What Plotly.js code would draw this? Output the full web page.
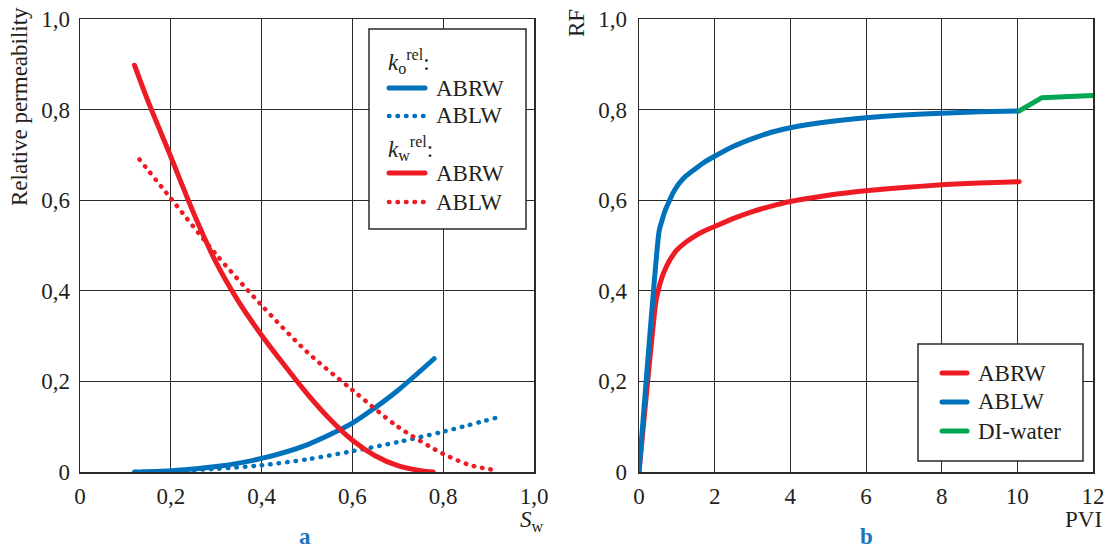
<!DOCTYPE html>
<html>
<head>
<meta charset="utf-8">
<script src="https://cdn.plot.ly/plotly-3.0.1.min.js"></script>
<style>
  html, body { margin: 0; padding: 0; background: #fff; }
  #chart { width: 1113px; height: 549px; }
  .js-line { stroke-linecap: round; stroke-linejoin: round; }
  .shapelayer path { stroke-linecap: round; }
</style>
</head>
<body>
<div id="chart"></div>
<script>
// ---- Panel a: relative permeability vs water saturation ----
const swTicks = [0, 0.2, 0.4, 0.6, 0.8, 1.0];
const swTickText = ['0', '0,2', '0,4', '0,6', '0,8', '1,0'];
const kTicks = [0, 0.2, 0.4, 0.6, 0.8, 1.0];
const kTickText = ['0', '0,2', '0,4', '0,6', '0,8', '1,0'];

const swKoABRW = [0.12, 0.2, 0.3, 0.4, 0.5, 0.6, 0.65, 0.7, 0.78];
const koABRW   = [0, 0.003, 0.012, 0.03, 0.06, 0.108, 0.142, 0.18, 0.25];

const swKoABLW = [0.12, 0.2, 0.3, 0.4, 0.5, 0.6, 0.7, 0.8, 0.918];
const koABLW   = [0, 0.002, 0.007, 0.015, 0.028, 0.046, 0.066, 0.089, 0.12];

const swKwABRW = [0.12, 0.15, 0.2, 0.25, 0.3, 0.35, 0.4, 0.45, 0.5, 0.55, 0.6, 0.65, 0.7, 0.75, 0.778];
const kwABRW   = [0.898, 0.818, 0.696, 0.572, 0.462, 0.375, 0.302, 0.236, 0.173, 0.117, 0.07, 0.036, 0.014, 0.003, 0];

const swKwABLW = [0.131, 0.2, 0.3, 0.4, 0.5, 0.6, 0.7, 0.8, 0.86, 0.915];
const kwABLW   = [0.69, 0.604, 0.48, 0.368, 0.265, 0.181, 0.1, 0.04, 0.015, 0.004];

const legendA = [
  { head: '<i>k</i><sub>o</sub><sup>rel</sup>:' },
  { label: 'ABRW', color: 'blue', dotted: false },
  { label: 'ABLW', color: 'blue', dotted: true },
  { head: '<i>k</i><sub>w</sub><sup>rel</sup>:' },
  { label: 'ABRW', color: 'red', dotted: false },
  { label: 'ABLW', color: 'red', dotted: true }
];

// ---- Panel b: recovery factor vs pore volumes injected ----
const pviTicks = [0, 2, 4, 6, 8, 10, 12];
const pviTickText = ['0', '2', '4', '6', '8', '10', '12'];
const rfTicks = [0, 0.2, 0.4, 0.6, 0.8, 1.0];
const rfTickText = ['0', '0,2', '0,4', '0,6', '0,8', '1,0'];

const pviABRW = [0, 0.44, 0.5, 0.6, 0.7, 0.8, 0.9, 1.0, 1.25, 1.5, 1.75, 2, 2.5, 3, 3.5, 4, 5, 6, 7, 8, 9, 10.05];
const rfABRW  = [0, 0.373, 0.398, 0.428, 0.449, 0.466, 0.479, 0.49, 0.508, 0.522, 0.533, 0.542, 0.56, 0.575, 0.587, 0.597, 0.611, 0.621, 0.628, 0.634, 0.638, 0.641];

const pviABLW = [0, 0.53, 0.6, 0.7, 0.81, 0.9, 1.0, 1.1, 1.25, 1.5, 1.75, 2, 2.5, 3, 3.5, 4, 5, 6, 7, 8, 9, 10.05];
const rfABLW  = [0, 0.531, 0.553, 0.579, 0.600, 0.616, 0.630, 0.641, 0.654, 0.670, 0.685, 0.697, 0.719, 0.736, 0.750, 0.760, 0.773, 0.782, 0.788, 0.792, 0.795, 0.797];

const pviDI = [10.05, 10.64, 12];
const rfDI  = [0.797, 0.826, 0.831];

const legendB = [
  { label: 'ABRW', color: 'red' },
  { label: 'ABLW', color: 'blue' },
  { label: 'DI-water', color: 'green' }
];

const COLORS = { red: '#ed1c24', blue: '#0072bc', green: '#00a651' };
const FONT = '"Liberation Serif", "Times New Roman", Times, serif';
const TXT = '#231f20';
const GRID = '#2a2a2a';
const DOTS = '0.5px,8px';
const FS = 23;

const traces = [
  { x: swKoABRW, y: koABRW, xaxis: 'x', yaxis: 'y', mode: 'lines', name: 'k_o ABRW', showlegend: false,
    line: { color: COLORS.blue, width: 5, shape: 'spline', smoothing: 0.8 } },
  { x: swKoABLW, y: koABLW, xaxis: 'x', yaxis: 'y', mode: 'lines', name: 'k_o ABLW', showlegend: false,
    line: { color: COLORS.blue, width: 4.5, shape: 'spline', smoothing: 0.8, dash: DOTS } },
  { x: swKwABRW, y: kwABRW, xaxis: 'x', yaxis: 'y', mode: 'lines', name: 'k_w ABRW', showlegend: false,
    line: { color: COLORS.red, width: 5, shape: 'spline', smoothing: 0.8 } },
  { x: swKwABLW, y: kwABLW, xaxis: 'x', yaxis: 'y', mode: 'lines', name: 'k_w ABLW', showlegend: false,
    line: { color: COLORS.red, width: 4.5, shape: 'spline', smoothing: 0.8, dash: DOTS } },
  { x: pviABRW, y: rfABRW, xaxis: 'x2', yaxis: 'y2', mode: 'lines', name: 'ABRW', showlegend: false,
    line: { color: COLORS.red, width: 5, shape: 'spline', smoothing: 0.5 } },
  { x: pviABLW, y: rfABLW, xaxis: 'x2', yaxis: 'y2', mode: 'lines', name: 'ABLW', showlegend: false,
    line: { color: COLORS.blue, width: 5, shape: 'spline', smoothing: 0.5 } },
  { x: pviDI, y: rfDI, xaxis: 'x2', yaxis: 'y2', mode: 'lines', name: 'DI-water', showlegend: false,
    line: { color: COLORS.green, width: 5 } }
];

const W = 1113, H = 549;
const px = v => v / W;
const py = v => (H - v) / H;

function axisBase(extra) {
  return Object.assign({
    showgrid: true, gridcolor: GRID, gridwidth: 1,
    showline: true, mirror: true, linecolor: GRID, linewidth: 1.5,
    zeroline: false, ticks: '', tickmode: 'array',
    tickfont: { family: FONT, size: FS, color: TXT },
    fixedrange: true
  }, extra);
}

const shapes = [];
const annotations = [];
function txt(text, x, y, opts) {
  annotations.push(Object.assign({
    text: text, xref: 'paper', yref: 'paper', x: px(x), y: py(y),
    xanchor: 'left', yanchor: 'middle', showarrow: false,
    font: { family: FONT, size: FS, color: TXT }
  }, opts || {}));
}

// Legend of panel a
shapes.push({ type: 'rect', xref: 'paper', yref: 'paper', x0: px(369), x1: px(526), y0: py(229), y1: py(29),
  line: { color: GRID, width: 1.5 }, fillcolor: '#ffffff' });
const rowsA = [61, 88, 116, 148, 173, 202];
legendA.forEach((e, i) => {
  const y = rowsA[i];
  if (e.head) {
    txt(e.head, 386, y);
  } else {
    shapes.push({ type: 'line', xref: 'paper', yref: 'paper', x0: px(389), x1: px(425), y0: py(y), y1: py(y),
      line: { color: COLORS[e.color], width: e.dotted ? 4.5 : 5, dash: e.dotted ? DOTS : 'solid' } });
    txt(e.label, 434, y);
  }
});

// Legend of panel b
shapes.push({ type: 'rect', xref: 'paper', yref: 'paper', x0: px(918), x1: px(1083), y0: py(461), y1: py(344),
  line: { color: GRID, width: 1.5 }, fillcolor: '#ffffff' });
const rowsB = [373, 402, 431];
legendB.forEach((e, i) => {
  const y = rowsB[i];
  shapes.push({ type: 'line', xref: 'paper', yref: 'paper', x0: px(942), x1: px(967), y0: py(y), y1: py(y),
    line: { color: COLORS[e.color], width: 5 } });
  txt(e.label, 976, y);
});

// Axis titles and panel letters
txt('Relative permeability', 20, 107, { xanchor: 'center', textangle: -90 });
txt('RF', 576, 23, { xanchor: 'center', textangle: -90 });
txt('<i>S</i><sub>w</sub>', 532, 521, { xanchor: 'center' });
txt('PVI', 1104, 519, { xanchor: 'right' });
txt('<b>a</b>', 305, 536, { xanchor: 'center', font: { family: FONT, size: 23, color: '#1a75bc' } });
txt('<b>b</b>', 866, 536, { xanchor: 'center', font: { family: FONT, size: 23, color: '#1a75bc' } });

const yDom = [py(472), py(19)];

const layout = {
  width: W, height: H,
  margin: { l: 0, r: 0, t: 0, b: 0, pad: 0 },
  paper_bgcolor: '#ffffff', plot_bgcolor: '#ffffff',
  font: { family: FONT, size: FS, color: TXT },
  showlegend: false,
  xaxis: axisBase({ domain: [px(80), px(534)], range: [0, 1], tickvals: swTicks, ticktext: swTickText, anchor: 'y', ticklabelstandoff: 3 }),
  yaxis: axisBase({ domain: yDom, range: [0, 1], tickvals: kTicks, ticktext: kTickText, anchor: 'x', ticklabelstandoff: 4 }),
  xaxis2: axisBase({ domain: [px(639), px(1093)], range: [0, 12], tickvals: pviTicks, ticktext: pviTickText, anchor: 'y2', ticklabelstandoff: 3 }),
  yaxis2: axisBase({ domain: yDom, range: [0, 1], tickvals: rfTicks, ticktext: rfTickText, anchor: 'x2', ticklabelstandoff: 6 }),
  shapes: shapes,
  annotations: annotations
};

Plotly.newPlot('chart', traces, layout, { displayModeBar: false, staticPlot: true });
</script>
</body>
</html>
